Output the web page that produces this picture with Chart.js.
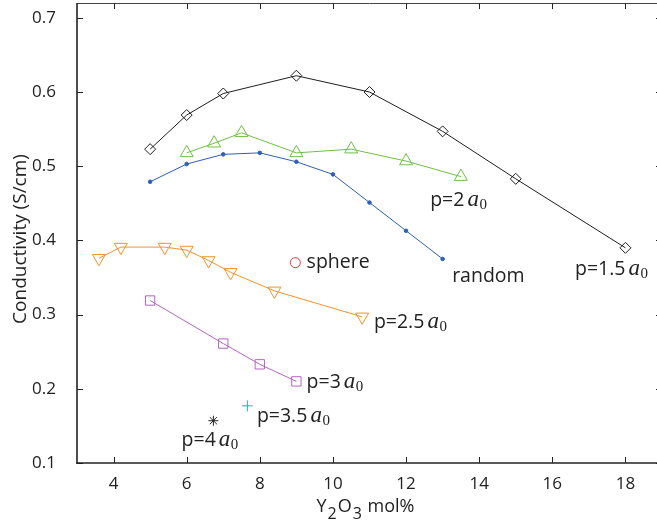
<!DOCTYPE html>
<html>
<head>
<meta charset="utf-8">
<script src="https://cdn.jsdelivr.net/npm/chart.js@4"></script>
<style>
  html, body { margin: 0; padding: 0; background: #fff; overflow: hidden; }
  canvas { display: block; }
</style>
</head>
<body>
<canvas id="chart" width="663" height="529"></canvas>
<script>
// p = 1.5 a0 (diamonds)
const diamondX = [5, 6, 7, 9, 11, 13, 15, 18];
const diamondY = [0.523, 0.569, 0.598, 0.622, 0.600, 0.547, 0.483, 0.390];
// p = 2 a0 (triangles up)
const triUpX = [6, 6.75, 7.5, 9, 10.5, 12, 13.5];
const triUpY = [0.518, 0.531, 0.545, 0.518, 0.523, 0.507, 0.486];
// random (small dots)
const randomX = [5, 6, 7, 8, 9, 10, 11, 12, 13];
const randomY = [0.479, 0.503, 0.516, 0.518, 0.506, 0.489, 0.451, 0.413, 0.375];
// p = 2.5 a0 (triangles down)
const triDownX = [3.6, 4.2, 5.4, 6, 6.6, 7.2, 8.4, 10.8];
const triDownY = [0.376, 0.391, 0.391, 0.387, 0.373, 0.357, 0.332, 0.297];
// p = 3 a0 (squares)
const squareX = [5, 7, 8, 9];
const squareY = [0.319, 0.261, 0.233, 0.210];
// single points
const sphereX = [8.97], sphereY = [0.370];
const p35X = [7.66], p35Y = [0.177];
const p4X = [6.73], p4Y = [0.157];

const xTicks = [4, 6, 8, 10, 12, 14, 16, 18];
const yTicks = [0.1, 0.2, 0.3, 0.4, 0.5, 0.6, 0.7];

// text labels placed in data coordinates (left edge, baseline)
const labelText = ["p=1.5", "random", "p=2", "sphere", "p=2.5", "p=3", "p=3.5", "p=4"];
const labelHasA0 = [true, false, true, false, true, true, true, true];
const labelX = [16.62, 13.26, 12.66, 9.28, 11.12, 9.28, 7.92, 5.86];
const labelY = [0.353, 0.344, 0.446, 0.363, 0.2815, 0.2006, 0.1556, 0.1229];

const zip = (xs, ys) => xs.map((v, i) => ({ x: v, y: ys[i] }));
const SANS = '"Open Sans", sans-serif';
const SERIF = '"Liberation Serif", "DejaVu Serif", serif';

function series(label, xs, ys, color, style, radius, extra) {
  return Object.assign({
    label,
    data: zip(xs, ys),
    borderColor: color,
    borderWidth: 1,
    pointStyle: style,
    pointRadius: radius,
    pointBorderColor: color,
    pointBackgroundColor: 'rgba(0,0,0,0)',
    pointBorderWidth: 1,
    pointHoverRadius: radius,
    tension: 0,
    fill: false
  }, extra || {});
}

// inward ticks, box lines, axis titles and annotations
const matlabFrame = {
  id: 'matlabFrame',
  afterDraw(chart) {
    const { ctx, chartArea: a, scales: { x, y } } = chart;
    const line = (x1, y1, x2, y2) => { ctx.beginPath(); ctx.moveTo(x1, y1); ctx.lineTo(x2, y2); ctx.stroke(); };
    ctx.save();

    ctx.strokeStyle = '#444';
    ctx.lineWidth = 1;
    line(a.left, a.top + 0.5, a.right, a.top + 0.5);
    line(a.right - 0.5, a.top, a.right - 0.5, a.bottom);
    ctx.strokeStyle = '#222';
    xTicks.forEach(v => {
      const px = Math.round(x.getPixelForValue(v)) + 0.5;
      line(px, a.bottom, px, a.bottom - 6);
      line(px, a.top, px, a.top + 6);
    });
    yTicks.forEach(v => {
      const py = Math.round(y.getPixelForValue(v)) + 0.5;
      line(a.left, py, a.left + 6, py);
      line(a.right, py, a.right - 6, py);
    });
    ctx.lineWidth = 1.6;
    line(a.left, a.top, a.left, a.bottom + 0.8);
    line(a.left - 0.8, a.bottom, a.right, a.bottom);

    // axis titles
    ctx.fillStyle = '#222';
    ctx.font = '19px ' + SANS;
    ctx.textBaseline = 'middle';
    ctx.textAlign = 'center';
    ctx.save();
    ctx.translate(21, 239);
    ctx.rotate(-Math.PI / 2);
    ctx.fillText('Conductivity (S/cm)', 0, 0);
    ctx.restore();

    const parts = [['Y', 0, 18], ['2', 7, 16], ['O', 0, 18], ['3', 7, 16], [' mol%', 0, 18]];
    let total = 0;
    parts.forEach(p => { ctx.font = p[2] + 'px ' + SANS; total += ctx.measureText(p[0]).width + 1; });
    let cx = 366 - total / 2;
    ctx.textAlign = 'left';
    ctx.textBaseline = 'alphabetic';
    parts.forEach(p => {
      ctx.font = p[2] + 'px ' + SANS;
      ctx.fillText(p[0], cx, 512 + p[1]);
      cx += ctx.measureText(p[0]).width + 1;
    });

    // annotations
    labelText.forEach((t, i) => {
      let px = x.getPixelForValue(labelX[i]);
      const py = y.getPixelForValue(labelY[i]);
      ctx.font = '19.5px ' + SANS;
      ctx.fillText(t, px, py);
      if (!labelHasA0[i]) return;
      px += ctx.measureText(t).width + 3;
      ctx.font = 'italic 23px ' + SERIF;
      ctx.fillText('a', px, py);
      px += ctx.measureText('a').width + 0.5;
      ctx.font = '15px ' + SERIF;
      ctx.fillText('0', px, py + 3);
    });
    ctx.restore();
  }
};

new Chart(document.getElementById('chart').getContext('2d'), {
  type: 'line',
  data: {
    datasets: [
      series('p=1.5a0', diamondX, diamondY, '#1e1e1e', 'rectRot', 5.5),
      series('p=2a0', triUpX, triUpY, '#6fbf45', 'triangle', 7.5),
      series('random', randomX, randomY, '#2d5fb4', 'circle', 1.8, { pointBackgroundColor: '#2d5fb4' }),
      series('p=2.5a0', triDownX, triDownY, '#f5922a', 'triangle', 7.5, { pointRotation: 180 }),
      series('p=3a0', squareX, squareY, '#b463c2', 'rect', 6.6),
      series('sphere', sphereX, sphereY, '#e8393a', 'circle', 5, { showLine: false }),
      series('p=3.5a0', p35X, p35Y, '#22b3b3', 'cross', 5.5, { showLine: false }),
      series('p=4a0', p4X, p4Y, '#222222', 'star', 5, { showLine: false })
    ]
  },
  options: {
    responsive: false,
    animation: false,
    layout: { autoPadding: false, padding: { top: 3, right: 1, left: 0, bottom: 0 } },
    plugins: { legend: { display: false }, tooltip: { enabled: false } },
    scales: {
      x: {
        type: 'linear',
        min: 3,
        max: 19,
        afterFit: (s) => { s.height = 66; s.paddingLeft = 0; s.paddingRight = 0; },
        afterBuildTicks: (s) => { s.ticks = xTicks.map(v => ({ value: v })); },
        grid: { display: false },
        border: { display: false },
        ticks: {
          color: '#222',
          font: { family: SANS, size: 17 },
          padding: 3,
          maxRotation: 0,
          callback: (v) => String(v)
        }
      },
      y: {
        type: 'linear',
        min: 0.1,
        max: 0.72,
        afterFit: (s) => { s.width = 77; s.paddingTop = 0; s.paddingBottom = 0; },
        afterBuildTicks: (s) => { s.ticks = yTicks.map(v => ({ value: v })); },
        grid: { display: false },
        border: { display: false },
        ticks: {
          color: '#222',
          font: { family: SANS, size: 17 },
          padding: 13,
          callback: (v) => v.toFixed(1)
        }
      }
    }
  },
  plugins: [matlabFrame]
});
</script>
</body>
</html>
